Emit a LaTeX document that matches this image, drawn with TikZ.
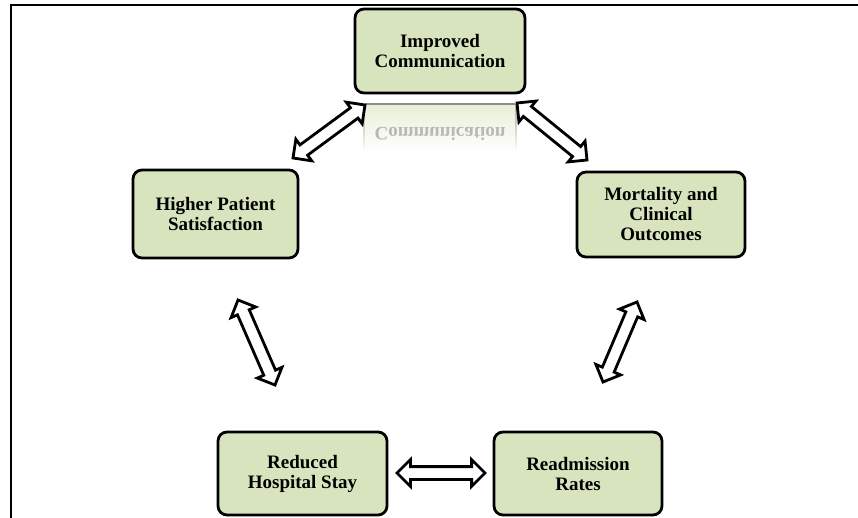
\documentclass[tikz,border=0pt]{standalone}
\usepackage{fontspec}
\setmainfont{Liberation Serif}
\usetikzlibrary{shapes.arrows,calc,fadings}
\definecolor{boxgreen}{HTML}{D7E4BD}
\tikzset{
  boxnode/.style={draw=black, line width=2.8pt, rounded corners=9pt, fill=boxgreen,
    align=center, font=\bfseries\fontsize{19}{20}\selectfont, inner sep=0pt},
  dblarr/.style={double arrow, draw=black, line width=2.8pt, fill=white, inner sep=0pt,
    inner ysep=5pt, double arrow head extend=7pt, double arrow tip angle=90},
  frameline/.style={line width=2.4pt, black}
}
\newcommand\linkarrow[2]{%
  \path let \p1=(#1), \p2=(#2), \n1={atan2(\y2-\y1,\x2-\x1)},
    \n2={veclen(\x2-\x1,\y2-\y1)} in
    node[dblarr, rotate=\n1, minimum height=\n2] at ($(#1)!0.5!(#2)$) {};}
\begin{document}
\begin{tikzpicture}[x=1pt,y=1pt]
\useasboundingbox (0,0) rectangle (858,-518);
% frame
\draw[frameline] (10,-5) -- (858,-5);
\draw[frameline] (11,-5) -- (11,-518);
% boxes
\node[boxnode, minimum width=170pt, minimum height=84pt] (ic) at (440,-51) {Improved\\Communication};
\node[boxnode, minimum width=165pt, minimum height=88pt] (hps) at (215.5,-214) {Higher Patient\\Satisfaction};
\node[boxnode, minimum width=168pt, minimum height=85pt] (mco) at (661,-214.5) {Mortality and\\Clinical\\Outcomes};
\node[boxnode, minimum width=169pt, minimum height=83pt] (rhs) at (302.5,-473.5) {Reduced\\Hospital Stay};
\node[boxnode, minimum width=168pt, minimum height=83pt] (rr) at (578,-473.5) {Readmission\\Rates};
% reflection of top box
\fill[boxgreen!60, path fading=south] (363,-104) rectangle (517,-152);
\draw[black!45, line width=2.2pt] (365,-104) -- (515,-104);
\draw[black!30, line width=2pt, path fading=south] (364,-104) -- (364,-150);
\draw[black!30, line width=2pt, path fading=south] (516,-104) -- (516,-150);
\node[yscale=-1, anchor=base, text=black!28, font=\bfseries\fontsize{19}{20}\selectfont] (icr) at (440,-128) {Communication};
% arrow end points
\coordinate (a1s) at (293,-158); \coordinate (a1e) at (365,-105);
\coordinate (a2s) at (517,-103); \coordinate (a2e) at (587,-160);
\coordinate (a3s) at (238,-300); \coordinate (a3e) at (275,-385);
\coordinate (a4s) at (637,-302); \coordinate (a4e) at (603,-382);
\coordinate (a5s) at (397,-473); \coordinate (a5e) at (485,-473);
\linkarrow{a1s}{a1e}
\linkarrow{a2s}{a2e}
\linkarrow{a3s}{a3e}
\linkarrow{a4s}{a4e}
\linkarrow{a5s}{a5e}
\end{tikzpicture}
\end{document}
